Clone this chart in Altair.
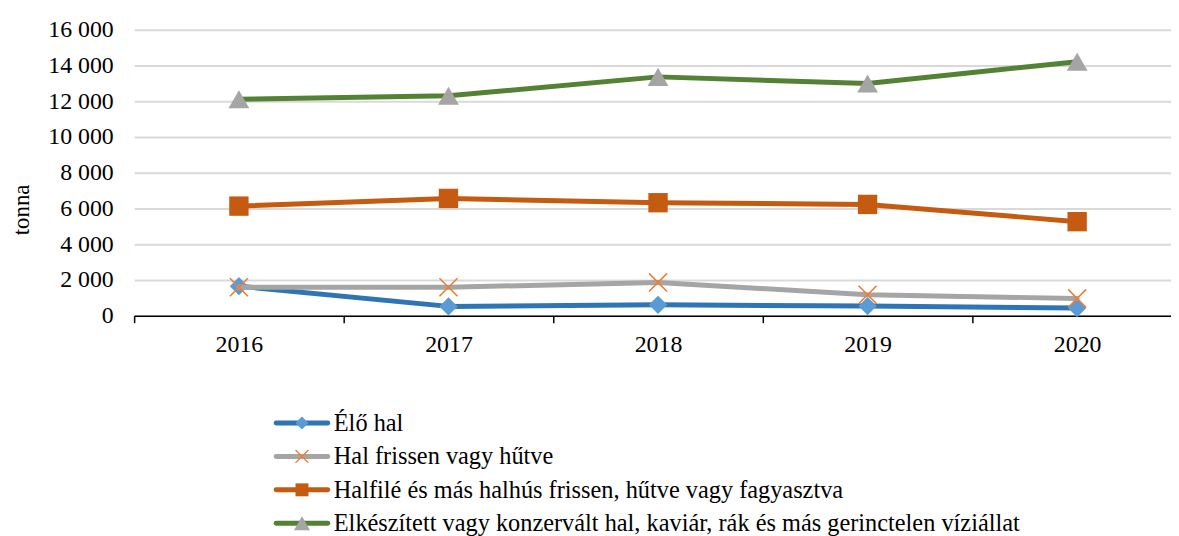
import altair as alt
import pandas as pd

years = ["2016", "2017", "2018", "2019", "2020"]
series_names = [
    "Élő hal",
    "Hal frissen vagy hűtve",
    "Halfilé és más halhús frissen, hűtve vagy fagyasztva",
    "Elkészített vagy konzervált hal, kaviár, rák és más gerinctelen víziállat",
]
elo_hal = [1650, 520, 610, 540, 430]
hal_frissen = [1590, 1590, 1860, 1170, 965]
halfile = [6130, 6560, 6320, 6225, 5260]
elkeszitett = [12110, 12300, 13360, 12990, 14210]
values = [elo_hal, hal_frissen, halfile, elkeszitett]

line_colors = ["#2e75b6", "#a5a5a5", "#c55a11", "#548235"]
marker_colors = ["#5b9bd5", "#ed7d31", "#c55a11", "#a5a5a5"]
X_PATH = "M-1,-1L1,1M1,-1L-1,1"
shapes = ["diamond", X_PATH, "square", "triangle-up"]
filled = [True, False, True, True]
plot_sizes = [340, 330, 380, 440]
legend_sizes = [170, 170, 170, 260]

FONT = "Liberation Serif"

x_enc = alt.X(
    "year:N",
    sort=years,
    scale=alt.Scale(domain=years, range=[0, 1055], paddingInner=0, paddingOuter=0),
    axis=alt.Axis(
        title=None,
        tickBand="extent",
        labelAngle=0,
        labelFont=FONT,
        labelFontSize=24,
        labelColor="#000000",
        labelPadding=10,
        domainColor="#000000",
        domainWidth=1.5,
        tickColor="#000000",
        tickWidth=1.5,
        tickSize=7,
        grid=False,
    ),
)

y_scale = alt.Scale(domain=[0, 16000], nice=False, zero=True)
y_axis = alt.Axis(
    values=list(range(0, 16001, 2000)),
    labelExpr="replace(format(datum.value, ','), ',', ' ')",
    title="tonna",
    titleFont=FONT,
    titleFontSize=23,
    titleFontWeight="normal",
    titleColor="#000000",
    titleAngle=-90,
    titleX=-113,
    titleY=181,
    titleAlign="center",
    titleBaseline="middle",
    labelFont=FONT,
    labelFontSize=24,
    labelColor="#000000",
    labelPadding=21,
    domain=False,
    ticks=False,
    grid=True,
    gridColor="#d9d9d9",
    gridWidth=2,
)
y_enc = alt.Y("value:Q", scale=y_scale, axis=y_axis)

data_layers = []
for i, name in enumerate(series_names):
    df = pd.DataFrame({"year": years, "value": values[i], "series": name})
    line = alt.Chart(df).mark_line(
        color=line_colors[i], strokeWidth=5, strokeCap="round", strokeJoin="round"
    ).encode(x=x_enc, y=y_enc)
    if filled[i]:
        pt = alt.Chart(df).mark_point(
            shape=shapes[i], filled=True, fill=marker_colors[i], opacity=1,
            size=plot_sizes[i], strokeWidth=0
        ).encode(x=x_enc, y=y_enc)
    else:
        pt = alt.Chart(df).mark_point(
            shape=shapes[i], filled=False, stroke=marker_colors[i], opacity=1,
            size=plot_sizes[i], strokeWidth=1.6
        ).encode(x=x_enc, y=y_enc)
    data_layers += [line, pt]

data_chart = alt.layer(*data_layers)

legend_df = pd.DataFrame({"series": series_names})
ly_scale = alt.Scale(type="point", domain=series_names, range=[396, 497], padding=0)
legend_layers = []
for i, name in enumerate(series_names):
    d = legend_df[legend_df["series"] == name]
    ly = alt.Y("series:N", scale=ly_scale, axis=None)
    legend_layers.append(
        alt.Chart(d).mark_rule(color=line_colors[i], strokeWidth=5, strokeCap="round").encode(
            x=alt.value(143), x2=alt.value(195), y=ly
        )
    )
    if filled[i]:
        legend_layers.append(
            alt.Chart(d).mark_point(shape=shapes[i], filled=True, fill=marker_colors[i], opacity=1,
                                    size=legend_sizes[i], strokeWidth=0).encode(x=alt.value(169), y=ly)
        )
    else:
        legend_layers.append(
            alt.Chart(d).mark_point(shape=shapes[i], filled=False, stroke=marker_colors[i], opacity=1,
                                    size=legend_sizes[i], strokeWidth=1.4).encode(x=alt.value(169), y=ly)
        )
    legend_layers.append(
        alt.Chart(d).mark_text(align="left", baseline="middle", font=FONT, fontSize=24.5,
                               color="#000000", dy=1).encode(x=alt.value(201), y=ly, text="series:N")
    )

legend_chart = alt.layer(*legend_layers)

chart = (
    alt.layer(data_chart, legend_chart)
    .resolve_scale(y="independent")
    .properties(
        width=1044,
        height=288,
        autosize=alt.AutoSizeParams(type="none"),
        padding={"left": 127, "top": 20, "right": 0, "bottom": 220},
        background="#ffffff",
    )
    .configure_view(stroke=None)
)

chart.save("out.html", embed_options={"renderer": "svg", "actions": False})
